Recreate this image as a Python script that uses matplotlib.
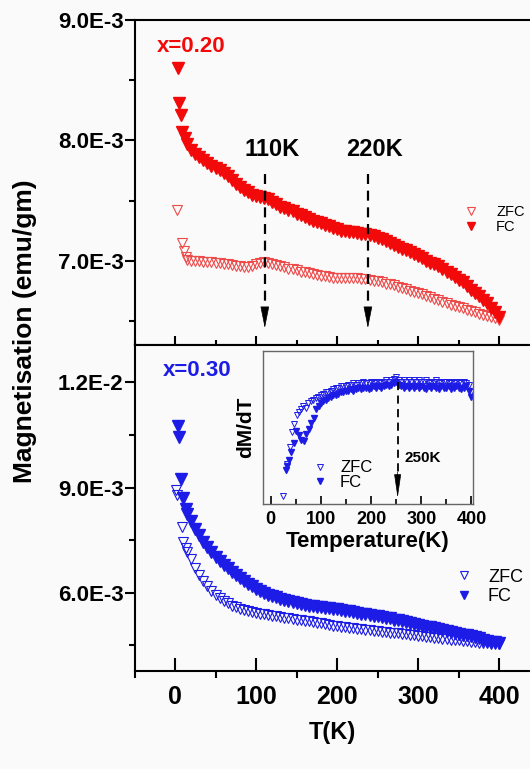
import matplotlib.pyplot as plt
from matplotlib.ticker import MultipleLocator, FuncFormatter

plt.rcParams['font.family'] = ['Liberation Sans', 'DejaVu Sans']
plt.rcParams['font.weight'] = 'bold'
plt.rcParams['axes.labelweight'] = 'bold'

# temperature grid (K) shared by the dense part of every curve
t_grid = [15, 20, 25, 30, 35, 40, 45, 50, 55, 60,
          65, 70, 75, 80, 85, 90, 95, 100, 105, 110,
          115, 120, 125, 130, 135, 140, 145, 150, 155, 160,
          165, 170, 175, 180, 185, 190, 195, 200, 205, 210,
          215, 220, 225, 230, 235, 240, 245, 250, 255, 260,
          265, 270, 275, 280, 285, 290, 295, 300, 305, 310,
          315, 320, 325, 330, 335, 340, 345, 350, 355, 360,
          365, 370, 375, 380, 385, 390, 395, 400]

# x = 0.20, magnetisation in 1E-3 emu/gm
t20_fc_low = [4, 5, 7, 9, 12]
m20_fc_low = [8.60, 8.31, 8.21, 8.07, 8.02]
m20_fc = [7.97, 7.92, 7.89, 7.86, 7.84, 7.81, 7.79, 7.77, 7.75, 7.73,
          7.70, 7.67, 7.64, 7.61, 7.59, 7.57, 7.55, 7.54, 7.53, 7.52,
          7.51, 7.49, 7.47, 7.45, 7.44, 7.42, 7.41, 7.39, 7.38, 7.36,
          7.35, 7.33, 7.32, 7.31, 7.30, 7.29, 7.27, 7.26, 7.25, 7.245,
          7.24, 7.235, 7.23, 7.225, 7.22, 7.215, 7.205, 7.19, 7.18, 7.165,
          7.15, 7.13, 7.115, 7.10, 7.085, 7.07, 7.06, 7.04, 7.02, 7.00,
          6.985, 6.97, 6.955, 6.93, 6.91, 6.89, 6.865, 6.84, 6.82, 6.79,
          6.76, 6.735, 6.705, 6.675, 6.645, 6.61, 6.575, 6.53]
t20_zfc_low = [3, 8, 11, 13]
m20_zfc_low = [7.42, 7.15, 7.08, 7.03]
m20_zfc = [7.01, 7.00, 6.995, 6.995, 6.99, 6.99, 6.99, 6.985, 6.98, 6.975,
           6.97, 6.965, 6.96, 6.955, 6.95, 6.95, 6.955, 6.97, 6.985, 6.99,
           6.985, 6.975, 6.965, 6.955, 6.945, 6.935, 6.93, 6.92, 6.91, 6.905,
           6.895, 6.89, 6.88, 6.875, 6.87, 6.865, 6.86, 6.855, 6.855, 6.855,
           6.855, 6.855, 6.855, 6.85, 6.845, 6.84, 6.835, 6.83, 6.82, 6.81,
           6.805, 6.795, 6.785, 6.775, 6.765, 6.75, 6.74, 6.73, 6.72, 6.705,
           6.695, 6.68, 6.67, 6.66, 6.645, 6.635, 6.625, 6.615, 6.605, 6.59,
           6.58, 6.57, 6.56, 6.55, 6.54, 6.53, 6.52, 6.51]

# x = 0.30
t30_fc_low = [4, 5, 7, 10, 13]
m30_fc_low = [10.76, 10.43, 9.25, 8.70, 8.38]
m30_fc = [8.24, 8.03, 7.82, 7.63, 7.45, 7.29, 7.15, 7.02, 6.90, 6.79,
          6.69, 6.59, 6.50, 6.42, 6.33, 6.25, 6.18, 6.10, 6.04, 5.99,
          5.94, 5.90, 5.86, 5.82, 5.78, 5.75, 5.72, 5.69, 5.67, 5.65,
          5.63, 5.61, 5.60, 5.58, 5.57, 5.55, 5.54, 5.52, 5.50, 5.48,
          5.46, 5.44, 5.42, 5.40, 5.38, 5.36, 5.34, 5.32, 5.30, 5.28,
          5.26, 5.23, 5.21, 5.18, 5.16, 5.13, 5.11, 5.08, 5.06, 5.03,
          5.01, 4.98, 4.96, 4.93, 4.91, 4.88, 4.86, 4.83, 4.80, 4.78,
          4.75, 4.72, 4.69, 4.66, 4.63, 4.60, 4.58, 4.55]
t30_zfc_low = [1, 3, 8, 10, 13]
m30_zfc_low = [8.93, 8.79, 7.88, 7.45, 7.26]
m30_zfc = [7.16, 6.96, 6.70, 6.49, 6.33, 6.18, 6.05, 5.92, 5.84, 5.76,
           5.69, 5.63, 5.58, 5.54, 5.50, 5.47, 5.44, 5.42, 5.40, 5.38,
           5.36, 5.34, 5.32, 5.30, 5.28, 5.26, 5.24, 5.22, 5.21, 5.19,
           5.18, 5.16, 5.14, 5.12, 5.10, 5.08, 5.06, 5.05, 5.03, 5.02,
           5.00, 4.99, 4.97, 4.95, 4.94, 4.92, 4.91, 4.89, 4.88, 4.87,
           4.86, 4.85, 4.84, 4.82, 4.81, 4.80, 4.78, 4.77, 4.76, 4.74,
           4.72, 4.71, 4.70, 4.68, 4.67, 4.66, 4.65, 4.64, 4.62, 4.61,
           4.60, 4.59, 4.57, 4.56, 4.55, 4.54, 4.53, 4.52]

# inset dM/dT (arbitrary units, 0..1)
t_in_zfc_low = [25, 32, 38, 43, 47, 52, 56, 60]
d_in_zfc = [0.05, 0.26, 0.37, 0.47, 0.52, 0.58, 0.60, 0.62,
            0.64, 0.63, 0.66, 0.67, 0.68, 0.69, 0.70, 0.71, 0.72, 0.73,
            0.73, 0.74, 0.75, 0.76, 0.76, 0.77, 0.77, 0.77, 0.78, 0.78,
            0.79, 0.78, 0.79, 0.79, 0.80, 0.79, 0.79, 0.80, 0.79, 0.80,
            0.80, 0.79, 0.80, 0.81, 0.80, 0.81, 0.82, 0.83, 0.81, 0.80,
            0.81, 0.80, 0.81, 0.80, 0.81, 0.80, 0.81, 0.80, 0.80, 0.81,
            0.80, 0.79, 0.80, 0.81, 0.80, 0.79, 0.80, 0.80, 0.79, 0.80,
            0.79, 0.80, 0.80, 0.79, 0.80, 0.79, 0.78, 0.73]
t_in_fc_low = [30, 33, 37, 41, 46, 51, 56, 61, 66, 71, 76, 81, 86, 91, 96]
d_in_fc = [0.22, 0.25, 0.29, 0.34, 0.40, 0.48, 0.45, 0.42, 0.41, 0.46,
           0.49, 0.53, 0.56, 0.62, 0.64,
           0.66, 0.67, 0.68, 0.69, 0.70, 0.71, 0.71, 0.72, 0.73, 0.73,
           0.74, 0.74, 0.75, 0.74, 0.75, 0.76, 0.75, 0.76, 0.76, 0.75,
           0.76, 0.77, 0.76, 0.77, 0.76, 0.77, 0.78, 0.77, 0.78, 0.79,
           0.80, 0.78, 0.77, 0.76, 0.77, 0.76, 0.77, 0.76, 0.77, 0.76,
           0.77, 0.76, 0.75, 0.77, 0.76, 0.77, 0.76, 0.75, 0.77, 0.76,
           0.76, 0.77, 0.75, 0.76, 0.77, 0.76, 0.75, 0.76, 0.77, 0.74,
           0.70]
inset_ticks = [0, 100, 200, 300, 400]
inset_ticklabels = ['0', '100', '200', '300', '400']

# transitions marked in the figure
marks_top = [(110.8, '110K', 120), (238, '220K', 246)]
mark_inset = 253

red = '#f20a0a'
red_open = '#ee4a4a'
blue = '#1c1ce6'
bg = '#fafafa'


def sci(v, pos):
    m, e = ('%.1E' % v).split('E')
    return '%sE%d' % (m, int(e))


def drop_arrow(ax, t, y_top, y_head, y_tip, lw, dash, hl, hw):
    ax.plot([t, t], [y_top, y_head], color='k', lw=lw, ls=(0, dash))
    ax.annotate('', xy=(t, y_tip), xytext=(t, y_head),
                arrowprops=dict(arrowstyle='-|>,head_length=%s,head_width=%s' % (hl, hw),
                                color='k', lw=0.5, shrinkA=0, shrinkB=0))


def scale(vals):
    return [v * 1e-3 for v in vals]


fig = plt.figure(figsize=(5.3, 7.69), dpi=100)
fig.patch.set_facecolor(bg)

ax1 = fig.add_axes([0.2538, 0.5514, 0.7645, 0.4226])
ax2 = fig.add_axes([0.2538, 0.1274, 0.7645, 0.4240])

for ax in (ax1, ax2):
    ax.set_facecolor(bg)
    for s in ax.spines.values():
        s.set_linewidth(1.5)
    ax.set_xlim(-50, 450)
    ax.xaxis.set_major_locator(MultipleLocator(100))
    ax.xaxis.set_minor_locator(MultipleLocator(50))
    ax.yaxis.set_major_formatter(FuncFormatter(sci))
    ax.tick_params(axis='y', which='major', direction='out', length=7, width=1.5,
                   labelsize=16, pad=1)
    ax.tick_params(axis='y', which='minor', direction='out', length=4.5, width=1.5)
    ax.tick_params(top=False, right=False)

# top panel, x = 0.20
z1, = ax1.plot(t20_zfc_low + t_grid, scale(m20_zfc_low + m20_zfc), 'v', ls='none',
               ms=7.5, mfc='none', mec=red_open, mew=0.8)
f1, = ax1.plot(t20_fc_low + t_grid, scale(m20_fc_low + m20_fc), 'v', ls='none',
               ms=8, color=red, mec=red)
ax1.set_ylim(6.3e-3, 9.0001e-3)
ax1.yaxis.set_major_locator(MultipleLocator(1e-3))
ax1.yaxis.set_minor_locator(MultipleLocator(0.5e-3))
ax1.tick_params(axis='x', which='major', direction='in', length=6.5, width=1.5,
                labelbottom=False)
ax1.tick_params(axis='x', which='minor', direction='in', length=3.5, width=1.5)
ax1.text(-22, 8.78e-3, 'x=0.20', color=red, fontsize=16, va='center', ha='left')
for t, lab, tx in marks_top:
    ax1.text(tx, 7.92e-3, lab, fontsize=17, ha='center', va='center')
    drop_arrow(ax1, t, 7.72e-3, 6.60e-3, 6.44e-3, 1.6, (4.5, 3), 1.4, 0.28)
ax1.legend([z1, f1], ['ZFC', 'FC'], loc='center left', bbox_to_anchor=(0.813, 0.385),
           frameon=False, prop=dict(size=10.5, weight='normal'), handlelength=1.0,
           handletextpad=1.2, labelspacing=0.05, borderpad=0, borderaxespad=0,
           markerscale=0.75)

# bottom panel, x = 0.30
z2, = ax2.plot(t30_zfc_low + t_grid, scale(m30_zfc_low + m30_zfc), 'v', ls='none',
               ms=7.5, mfc='none', mec=blue, mew=0.8)
f2, = ax2.plot(t30_fc_low + t_grid, scale(m30_fc_low + m30_fc), 'v', ls='none',
               ms=8, color=blue, mec=blue)
ax2.set_ylim(3.76e-3, 13.07e-3)
ax2.yaxis.set_major_locator(MultipleLocator(3e-3))
ax2.yaxis.set_minor_locator(MultipleLocator(1.5e-3))
ax2.tick_params(axis='x', which='major', direction='in', length=9.5, width=1.5,
                labelsize=18, pad=10)
ax2.tick_params(axis='x', which='minor', direction='out', length=5, width=1.5)
ax2.text(-15, 12.35e-3, 'x=0.30', color=blue, fontsize=16, va='center', ha='left')
ax2.legend([z2, f2], ['ZFC', 'FC'], loc='center left', bbox_to_anchor=(0.792, 0.258),
           frameon=False, prop=dict(size=13, weight='normal'), handlelength=1.0,
           handletextpad=0.8, labelspacing=0.15, borderpad=0, borderaxespad=0,
           markerscale=0.75)

fig.text(25 / 530, 0.5696, 'Magnetisation (emu/gm)', rotation=90, fontsize=19,
         fontweight='bold', ha='center', va='center')
fig.text(0.628, 0.048, 'T(K)', fontsize=17, fontweight='bold', ha='center', va='center')

# inset
ins = fig.add_axes([263 / 530, 1 - 504 / 769, 210 / 530, 153 / 769])
ins.set_facecolor(bg)
for s in ins.spines.values():
    s.set_linewidth(1.0)
    s.set_color('#666666')
ins.plot(t_in_zfc_low + t_grid[10:], d_in_zfc, 'v', ls='none', ms=4.5,
         mfc='none', mec=blue, mew=0.7, label='ZFC')
ins.plot(t_in_fc_low + t_grid[17:], d_in_fc, 'v', ls='none', ms=4.5,
         color=blue, mec=blue, label='FC')
ins.set_xlim(-15, 403)
ins.set_ylim(0, 1)
ins.set_yticks([])
ins.set_xticks(inset_ticks)
ins.set_xticklabels(inset_ticklabels, fontweight='bold')
ins.xaxis.set_minor_locator(MultipleLocator(50))
ins.tick_params(axis='x', which='major', direction='in', length=6, width=1.2,
                labelsize=13, pad=5)
ins.tick_params(axis='x', which='minor', direction='in', length=3.5, width=1.2)
ins.set_xlabel('Temperature(K)', fontsize=16, fontweight='bold', labelpad=2)
ins.set_ylabel('dM/dT', fontsize=15, fontweight='bold', labelpad=6)
drop_arrow(ins, mark_inset, 0.80, 0.21, 0.04, 1.3, (4.5, 3), 1.5, 0.22)
ins.text(267, 0.30, '250K', fontsize=11, fontweight='bold', ha='left', va='center')
ins.legend(loc='center left', bbox_to_anchor=(0.232, 0.19), frameon=False,
           prop=dict(size=12, weight='normal'), handlelength=1.0,
           handletextpad=0.7, labelspacing=-0.05, borderpad=0, borderaxespad=0,
           markerscale=1.1)

fig.savefig('out.png', dpi=100, facecolor=bg)
